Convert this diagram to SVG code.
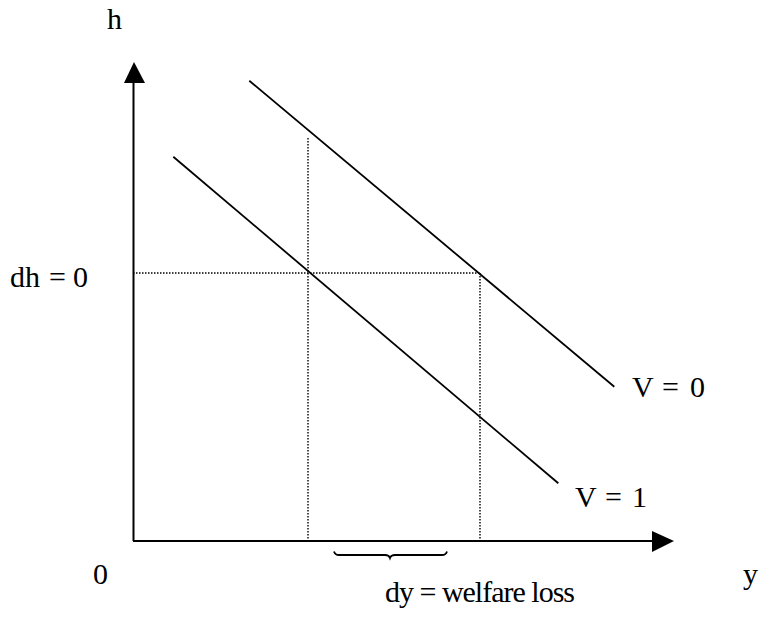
<svg xmlns="http://www.w3.org/2000/svg" width="773" height="633" viewBox="0 0 773 633">
<style>
.t{font-family:"Liberation Serif","Times New Roman",serif;font-size:30px;fill:#000}
.ax{stroke:#000;stroke-width:2;fill:none}
.ln{stroke:#000;stroke-width:1.8;fill:none}
.dt{stroke:#000;stroke-width:1.4;stroke-dasharray:1.5 1.5;fill:none}
</style>
<rect width="773" height="633" fill="#fff"/>
<g id="axes">
<line class="ax" x1="133.5" y1="541" x2="133.5" y2="80"/>
<polygon points="134,62 124,83 145,83" fill="#000"/>
<line class="ax" x1="133" y1="541" x2="655" y2="541"/>
<polygon points="674,541 652,531 652,552" fill="#000"/>
</g>
<g id="connectors">
<line class="dt" x1="133" y1="273" x2="480" y2="273"/>
<line class="dt" x1="308" y1="138" x2="308" y2="541"/>
<line class="dt" x1="480" y1="273" x2="480" y2="541"/>
</g>
<g id="curve-v0">
<line class="ln" x1="249.3" y1="80.7" x2="614.3" y2="386.7"/>
</g>
<g id="curve-v1">
<line class="ln" x1="173.3" y1="156.7" x2="558.3" y2="483.3"/>
</g>
<g id="brace">
<path class="ln" stroke-width="1.5" d="M334,551.5 Q335,555 339,555 L385,555 Q389,555 390,558 Q391,555 395,555 L442,555 Q446,555 447,551.5"/>
</g>
<g id="labels">
<text class="t" x="107" y="29">h</text>
<text class="t" y="287"><tspan x="10">dh</tspan><tspan x="49">=</tspan><tspan x="73">0</tspan></text>
<text class="t" y="397"><tspan x="632">V</tspan><tspan x="662">=</tspan><tspan x="690">0</tspan></text>
<text class="t" y="507"><tspan x="575">V</tspan><tspan x="605">=</tspan><tspan x="632">1</tspan></text>
<text class="t" x="93" y="584">0</text>
<text class="t" x="743" y="584">y</text>
<text class="t" x="385" y="602" textLength="190">dy = welfare loss</text>
</g>
</svg>
